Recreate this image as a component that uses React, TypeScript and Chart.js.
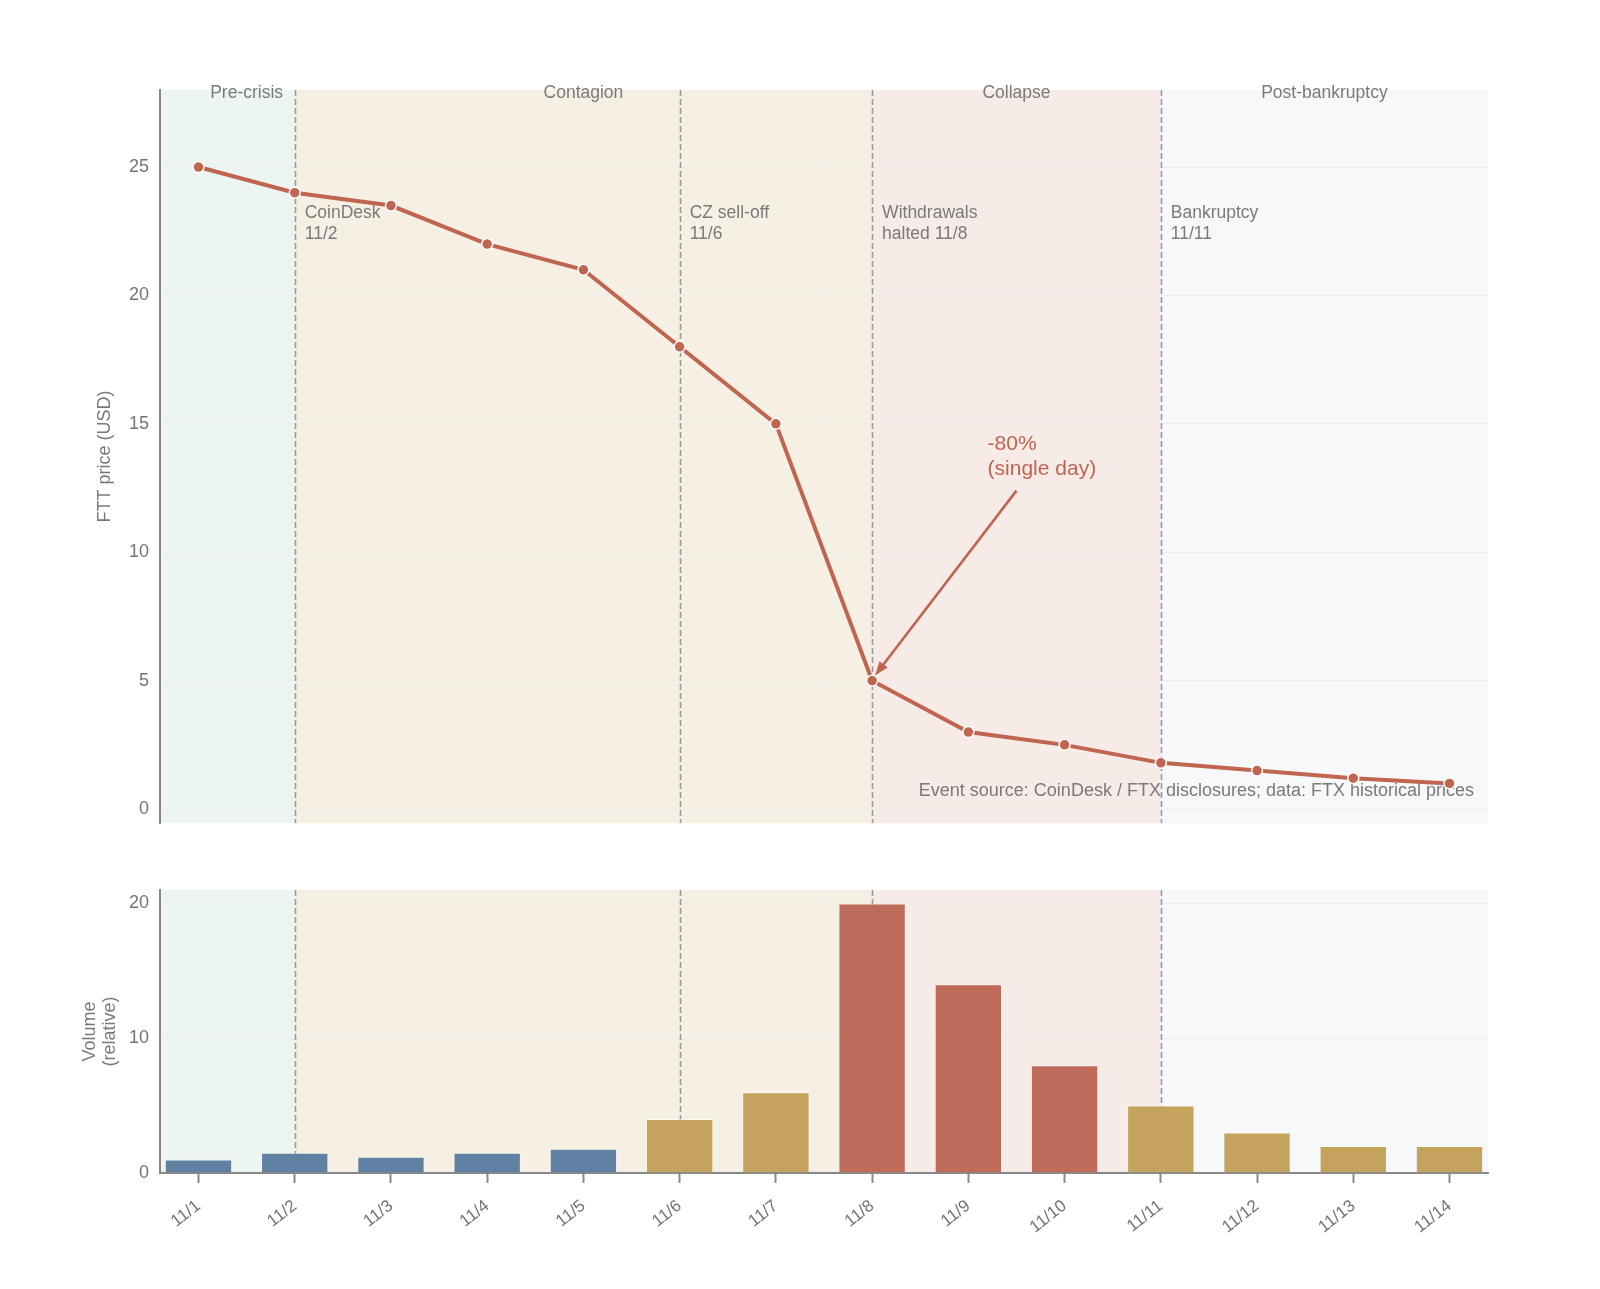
import { useEffect, useRef } from "react";
import Chart from "chart.js/auto";

const DAYS = ["11/1", "11/2", "11/3", "11/4", "11/5", "11/6", "11/7", "11/8", "11/9", "11/10", "11/11", "11/12", "11/13", "11/14"];
const PRICE = [25, 24, 23.5, 22, 21, 18, 15, 5, 3, 2.5, 1.8, 1.5, 1.2, 1.0];
const VOLUME = [1.0, 1.5, 1.2, 1.5, 1.8, 4, 6, 20, 14, 8, 5, 3, 2, 2];

const BLUE = "#6181a3";
const GOLD = "#c4a45c";
const RED = "#bf6b59";
const VOLUME_COLORS = [BLUE, BLUE, BLUE, BLUE, BLUE, GOLD, GOLD, RED, RED, RED, GOLD, GOLD, GOLD, GOLD];

// phase bands, edges are day indexes
const PHASE_NAMES = ["Pre-crisis", "Contagion", "Collapse", "Post-bankruptcy"];
const PHASE_EDGES = [-0.4, 1, 7, 10, 13.4];
const PHASE_LABEL_AT = [0.5, 4, 8.5, 11.7];
const PHASE_COLORS = ["#edf5f0", "#f6efe4", "#f6ebe7", "#f7f8fa"];

const EVENT_AT = [1, 5, 7, 10];
const EVENT_TEXT = [
  ["CoinDesk", "11/2"],
  ["CZ sell-off", "11/6"],
  ["Withdrawals", "halted 11/8"],
  ["Bankruptcy", "11/11"],
];

const PRICE_TICKS = [0, 5, 10, 15, 20, 25];
const VOLUME_TICKS = [0, 10, 20];

const FONT = "'Liberation Sans', Arial, Helvetica, sans-serif";
const LINE_RED = "#c0654f";
const TEXT_GRAY = "#7a7a7a";
const TICK_GRAY = "#747474";
const X_MIN = -0.4;
const X_MAX = 13.4;

function makeBandsPlugin(withText: boolean) {
  return {
    id: "phaseBands",
    beforeDraw(chart: any) {
      const { ctx, chartArea: a, scales } = chart;
      const x = scales.x;
      ctx.save();
      for (let i = 0; i < PHASE_NAMES.length; i++) {
        const x0 = Math.max(a.left, x.getPixelForValue(PHASE_EDGES[i]));
        const x1 = Math.min(a.right, x.getPixelForValue(PHASE_EDGES[i + 1]));
        ctx.fillStyle = PHASE_COLORS[i];
        ctx.fillRect(x0, a.top, x1 - x0, a.bottom - a.top);
      }
      ctx.restore();
    },
    beforeDatasetsDraw(chart: any) {
      const { ctx, chartArea: a, scales } = chart;
      const x = scales.x;
      ctx.save();
      ctx.strokeStyle = "#9a9a9a";
      ctx.lineWidth = 1.6;
      ctx.setLineDash([6, 3]);
      for (const at of EVENT_AT) {
        const px = Math.round(x.getPixelForValue(at)) + 0.5;
        ctx.beginPath();
        ctx.moveTo(px, a.top);
        ctx.lineTo(px, a.bottom);
        ctx.stroke();
      }
      ctx.setLineDash([]);
      if (withText) {
        ctx.fillStyle = TEXT_GRAY;
        ctx.font = `17.5px ${FONT}`;
        ctx.textBaseline = "middle";
        ctx.textAlign = "center";
        PHASE_NAMES.forEach((name, i) => {
          ctx.fillText(name, x.getPixelForValue(PHASE_LABEL_AT[i]), a.top + 3);
        });
        ctx.textAlign = "left";
        EVENT_AT.forEach((at, i) => {
          const px = x.getPixelForValue(at) + 10;
          EVENT_TEXT[i].forEach((line, j) => {
            ctx.fillText(line, px, a.top + 123 + j * 21);
          });
        });
        ctx.textAlign = "right";
        ctx.font = `18px ${FONT}`;
        ctx.fillText(
          "Event source: CoinDesk / FTX disclosures; data: FTX historical prices",
          a.right - 14,
          a.bottom - 32
        );
      }
      ctx.restore();
    },
  };
}

const annotationPlugin = {
  id: "dropNote",
  afterDatasetsDraw(chart: any) {
    const { ctx, scales } = chart;
    const x = scales.x;
    const y = scales.y;
    ctx.save();
    ctx.fillStyle = LINE_RED;
    ctx.strokeStyle = LINE_RED;
    ctx.font = `21px ${FONT}`;
    ctx.textAlign = "left";
    ctx.textBaseline = "middle";
    const tx = x.getPixelForValue(8.2);
    ctx.fillText("-80%", tx, y.getPixelForValue(14.2));
    ctx.fillText("(single day)", tx, y.getPixelForValue(13.25));

    const x0 = x.getPixelForValue(8.5);
    const y0 = y.getPixelForValue(12.4);
    const x1 = x.getPixelForValue(7.03);
    const y1 = y.getPixelForValue(5.2);
    const ang = Math.atan2(y1 - y0, x1 - x0);
    const head = 15;
    ctx.lineWidth = 2.6;
    ctx.beginPath();
    ctx.moveTo(x0, y0);
    ctx.lineTo(x1 - Math.cos(ang) * head * 0.8, y1 - Math.sin(ang) * head * 0.8);
    ctx.stroke();
    ctx.beginPath();
    ctx.moveTo(x1, y1);
    ctx.lineTo(x1 - head * Math.cos(ang - 0.35), y1 - head * Math.sin(ang - 0.35));
    ctx.lineTo(x1 - head * Math.cos(ang + 0.35), y1 - head * Math.sin(ang + 0.35));
    ctx.closePath();
    ctx.fill();
    ctx.restore();
  },
};

function dayTicks(axis: any) {
  axis.ticks = DAYS.map((_, i) => ({ value: i }));
}

export default function App() {
  const priceRef = useRef<HTMLCanvasElement | null>(null);
  const volumeRef = useRef<HTMLCanvasElement | null>(null);

  useEffect(() => {
    if (!priceRef.current || !volumeRef.current) return;

    const priceChart = new Chart(priceRef.current, {
      type: "line",
      data: {
        datasets: [
          {
            label: "FTT price",
            data: PRICE.map((v, i) => ({ x: i, y: v })),
            borderColor: LINE_RED,
            borderWidth: 4,
            pointRadius: 5.5,
            pointBackgroundColor: LINE_RED,
            pointBorderColor: "#ffffff",
            pointBorderWidth: 1.5,
            tension: 0,
          },
        ],
      },
      options: {
        responsive: false,
        animation: false,
        events: [],
        layout: { padding: { top: 90, right: 112, bottom: 20, left: 0 } },
        plugins: { legend: { display: false }, tooltip: { enabled: false } },
        scales: {
          x: {
            type: "linear",
            display: false,
            min: X_MIN,
            max: X_MAX,
            offset: false,
            afterBuildTicks: dayTicks,
          },
          y: {
            min: -0.55,
            max: 28,
            afterBuildTicks: (axis: any) => {
              axis.ticks = PRICE_TICKS.map((v) => ({ value: v }));
            },
            afterFit: (scale: any) => {
              scale.width = 160;
            },
            border: { display: true, color: "#888888", width: 2 },
            grid: { color: "#ececec", lineWidth: 1, drawTicks: false },
            ticks: { color: TICK_GRAY, padding: 11, font: { family: FONT, size: 18 } },
            title: {
              display: true,
              text: "FTT price (USD)",
              color: TEXT_GRAY,
              font: { family: FONT, size: 18 },
              padding: { top: 94, bottom: 0 },
            },
          },
        },
      },
      plugins: [makeBandsPlugin(true), annotationPlugin],
    } as any);

    const volumeChart = new Chart(volumeRef.current, {
      type: "bar",
      data: {
        datasets: [
          {
            label: "Volume",
            data: VOLUME.map((v, i) => ({ x: i, y: v })),
            backgroundColor: VOLUME_COLORS,
            borderColor: "rgba(255,255,255,0.5)",
            borderWidth: 1,
            categoryPercentage: 0.7,
            barPercentage: 1,
          },
        ],
      },
      options: {
        responsive: false,
        animation: false,
        events: [],
        layout: { padding: { top: 45, right: 112, bottom: 0, left: 0 } },
        plugins: { legend: { display: false }, tooltip: { enabled: false } },
        scales: {
          x: {
            type: "linear",
            min: X_MIN,
            max: X_MAX,
            offset: false,
            afterBuildTicks: dayTicks,
            afterFit: (scale: any) => {
              scale.height = 116;
            },
            border: { display: true, color: "#888888", width: 2 },
            grid: {
              offset: false,
              drawOnChartArea: false,
              drawTicks: true,
              tickLength: 10,
              tickColor: "#888888",
              tickWidth: 2,
            },
            ticks: {
              autoSkip: false,
              minRotation: 38,
              maxRotation: 38,
              padding: 13,
              color: TICK_GRAY,
              font: { family: FONT, size: 17 },
              callback: (v: any) => DAYS[v] ?? "",
            },
          },
          y: {
            min: 0,
            max: 21,
            afterBuildTicks: (axis: any) => {
              axis.ticks = VOLUME_TICKS.map((v) => ({ value: v }));
            },
            afterFit: (scale: any) => {
              scale.width = 160;
            },
            border: { display: true, color: "#888888", width: 2 },
            grid: { color: "#ececec", lineWidth: 1, drawTicks: false },
            ticks: { color: TICK_GRAY, padding: 11, font: { family: FONT, size: 18 } },
            title: {
              display: true,
              text: ["Volume", "(relative)"],
              color: TEXT_GRAY,
              font: { family: FONT, size: 18, lineHeight: 1.1 },
              padding: { top: 80, bottom: 0 },
            },
          },
        },
      },
      plugins: [makeBandsPlugin(false)],
    } as any);

    return () => {
      priceChart.destroy();
      volumeChart.destroy();
    };
  }, []);

  return (
    <div style={{ position: "absolute", left: 0, top: 0, width: 1600, height: 1289, background: "#ffffff" }}>
      <canvas ref={priceRef} width={1600} height={845} style={{ display: "block" }} />
      <canvas ref={volumeRef} width={1600} height={444} style={{ display: "block" }} />
    </div>
  );
}
